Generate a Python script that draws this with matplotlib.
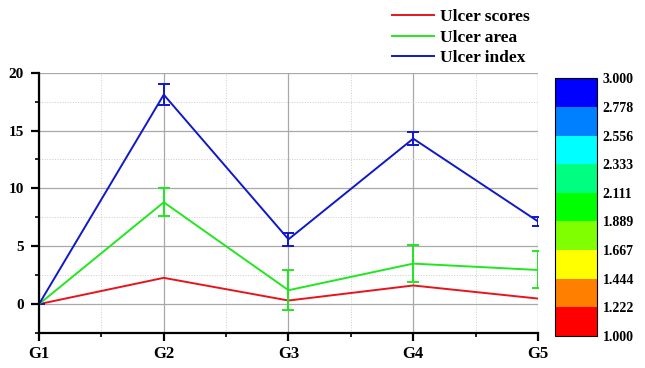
import numpy as np
import matplotlib.pyplot as plt
import matplotlib as mpl
from matplotlib.colors import ListedColormap, BoundaryNorm

plt.rcParams['font.family'] = ['Liberation Serif', 'DejaVu Serif']
plt.rcParams['font.weight'] = 'bold'

# data
groups = ['G1', 'G2', 'G3', 'G4', 'G5']
ulcer_scores = [0.0, 2.27, 0.31, 1.61, 0.48]
ulcer_area = [0.0, 8.8, 1.2, 3.5, 2.95]
ulcer_area_err = [0.0, 1.2, 1.75, 1.6, 1.6]
ulcer_index = [0.0, 18.1, 5.6, 14.3, 7.15]
ulcer_index_err = [0.0, 0.9, 0.55, 0.55, 0.37]

cbar_colors = ['#ff0000', '#ff7f00', '#ffff00', '#80ff00', '#00ff00',
               '#00ff80', '#00ffff', '#0080ff', '#0000ff']
cbar_bounds = np.linspace(1.0, 3.0, 10)

fig = plt.figure(figsize=(6.45, 3.68), dpi=100)
ax = fig.add_axes([0.0605, 0.095, 0.7735, 0.7075])

x = np.arange(len(groups))
ax.plot(x, ulcer_scores, color='#e8141c', lw=1.4, label='Ulcer scores')
ax.errorbar(x, ulcer_area, yerr=ulcer_area_err, color='#22e622', lw=1.4,
            elinewidth=1.4, capsize=4, capthick=1.4, label='Ulcer area')
ax.errorbar(x, ulcer_index, yerr=ulcer_index_err, color='#1018c8', lw=1.4,
            elinewidth=1.4, capsize=4, capthick=1.4, label='Ulcer index')

ax.set_xlim(0, 4)
ax.set_ylim(-2.5, 20)
ax.set_xticks(x)
ax.set_xticklabels(groups)
ax.set_xticks(x[:-1] + 0.5, minor=True)
ax.set_yticks([0, 5, 10, 15, 20])
ax.set_yticks([-2.5, 2.5, 7.5, 12.5, 17.5], minor=True)

ax.grid(True, which='major', color='#a8a8a8', lw=0.9)
ax.grid(True, which='minor', color='#cccccc', lw=0.7, ls=':')
ax.set_axisbelow(True)
for s in ['top', 'right']:
    ax.spines[s].set_visible(False)
for s in ['left', 'bottom']:
    ax.spines[s].set_linewidth(1.6)
ax.tick_params(which='major', direction='out', length=6, width=1.6, labelsize=12)
ax.tick_params(axis='y', which='major', labelsize=11, pad=5)
ax.tick_params(which='minor', direction='out', length=3, width=1.2)

handles, labels = ax.get_legend_handles_labels()
handles = [plt.Line2D([], [], color=h[0].get_color() if isinstance(h, tuple) else h.get_color(), lw=1.4)
           for h in handles]
fig.legend(handles, labels, loc='upper left', bbox_to_anchor=(385 / 645, 1 - 2 / 368),
           frameon=False, fontsize=12.5, handlelength=2.4, handletextpad=0.35,
           labelspacing=0.25, borderaxespad=0)

cax = fig.add_axes([0.8605, 0.087, 0.065, 0.70])
cmap = ListedColormap(cbar_colors)
norm = BoundaryNorm(cbar_bounds, cmap.N)
cb = mpl.colorbar.ColorbarBase(cax, cmap=cmap, norm=norm, boundaries=cbar_bounds,
                               ticks=cbar_bounds, format='%.3f')
cb.outline.set_linewidth(0.8)
cax.tick_params(length=0, labelsize=10, pad=4)

fig.savefig('out.png', dpi=100)
